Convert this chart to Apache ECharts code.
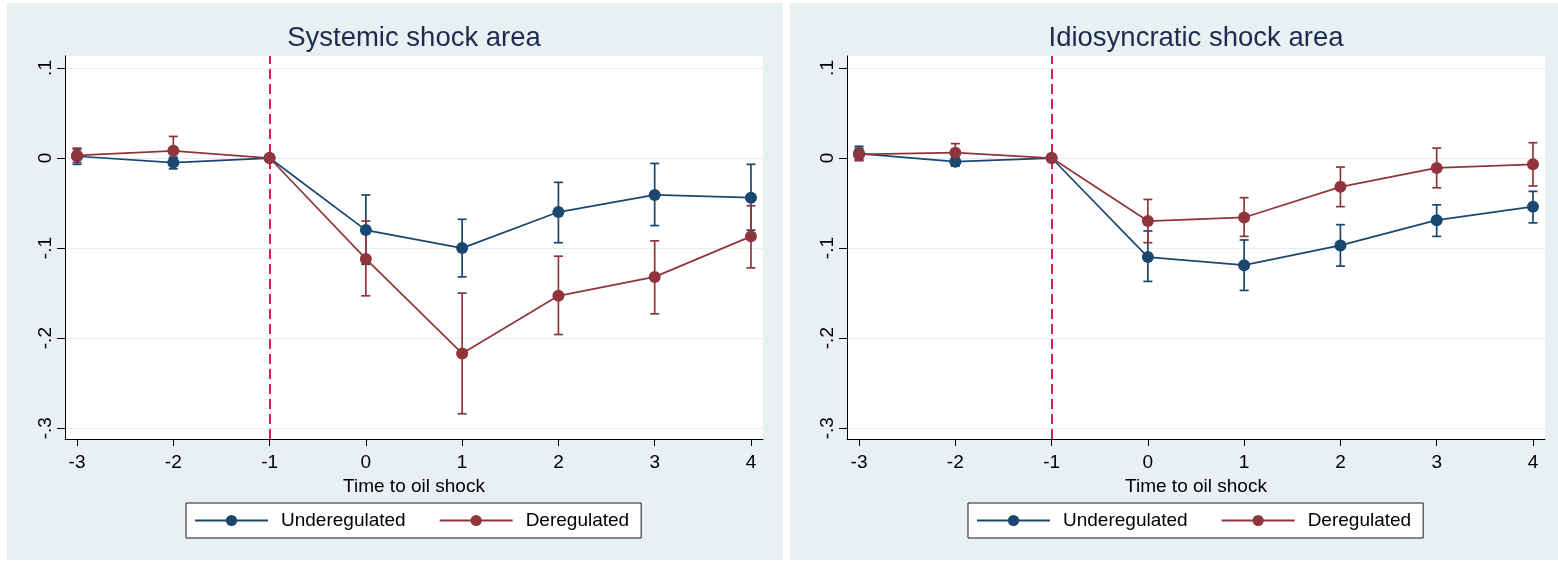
<!DOCTYPE html>
<html>
<head>
<meta charset="utf-8">
<script src="https://cdn.jsdelivr.net/npm/echarts@6.0.0/dist/echarts.min.js"></script>
<style>
  html, body { margin: 0; padding: 0; background: #ffffff; width: 1558px; height: 563px; overflow: hidden; }
  .panel { position: absolute; top: 3px; height: 557px; }
  #sys { left: 7px; width: 776px; }
  #idio { left: 790px; width: 768px; }
</style>
</head>
<body>
<div id="sys" class="panel"></div>
<div id="idio" class="panel"></div>
<script>
// Event time relative to the oil shock
const periods = [-3, -2, -1, 0, 1, 2, 3, 4];
const xTicks = [-3, -2, -1, 0, 1, 2, 3, 4];
const yTicks = [-0.3, -0.2, -0.1, 0, 0.1];
const seriesNames = ['Underegulated', 'Deregulated'];
const panelTitles = ['Systemic shock area', 'Idiosyncratic shock area'];
const xAxisTitle = 'Time to oil shock';
const shockPeriod = -1;

// Systemic shock area: point estimates and 95% confidence bounds
const sysUnderEst = [0.002, -0.005, 0, -0.080, -0.100, -0.060, -0.041, -0.044];
const sysUnderLo  = [-0.007, -0.012, 0, -0.118, -0.132, -0.094, -0.075, -0.080];
const sysUnderHi  = [0.010, 0.001, 0, -0.041, -0.068, -0.027, -0.006, -0.007];
const sysDeregEst = [0.003, 0.008, 0, -0.112, -0.217, -0.153, -0.132, -0.087];
const sysDeregLo  = [-0.005, -0.006, 0, -0.153, -0.284, -0.196, -0.173, -0.122];
const sysDeregHi  = [0.011, 0.024, 0, -0.070, -0.150, -0.109, -0.092, -0.053];

// Idiosyncratic shock area: point estimates and 95% confidence bounds
const idUnderEst = [0.005, -0.004, 0, -0.110, -0.119, -0.097, -0.069, -0.054];
const idUnderLo  = [-0.002, -0.009, 0, -0.137, -0.147, -0.120, -0.087, -0.072];
const idUnderHi  = [0.013, 0.000, 0, -0.081, -0.091, -0.074, -0.052, -0.037];
const idDeregEst = [0.004, 0.006, 0, -0.070, -0.066, -0.032, -0.011, -0.007];
const idDeregLo  = [-0.003, -0.004, 0, -0.094, -0.087, -0.054, -0.033, -0.031];
const idDeregHi  = [0.011, 0.016, 0, -0.046, -0.044, -0.010, 0.011, 0.017];

const COLORS = ['#1a476f', '#90353b'];
const BG = '#e9f0f2';
const FONT = '"Liberation Sans", Arial, sans-serif';

function fmtY(v) {
  const r = Math.round(v * 10) / 10;
  if (r === 0) return '0';
  return String(r).replace('0.', '.');
}

function points(est) {
  return periods.map((p, i) => [p, est[i]]);
}
function bars(lo, hi) {
  const out = [];
  periods.forEach((p, i) => { if (hi[i] !== lo[i]) out.push([p, lo[i], hi[i]]); });
  return out;
}

// Vertical interval with short horizontal caps at both ends
function capBars(color) {
  return function (params, api) {
    const x = api.value(0);
    const lo = api.coord([x, api.value(1)]);
    const hi = api.coord([x, api.value(2)]);
    const half = 4.5;
    const style = { stroke: color, lineWidth: 1.7 };
    return {
      type: 'group',
      children: [
        { type: 'line', shape: { x1: lo[0], y1: lo[1], x2: hi[0], y2: hi[1] }, style },
        { type: 'line', shape: { x1: lo[0] - half, y1: lo[1], x2: lo[0] + half, y2: lo[1] }, style },
        { type: 'line', shape: { x1: hi[0] - half, y1: hi[1], x2: hi[0] + half, y2: hi[1] }, style }
      ]
    };
  };
}

function panelOption(title, grid, titleX, legendLeft, est, lo, hi) {
  const series = [];
  for (let k = 0; k < 2; k++) {
    series.push({
      type: 'custom',
      name: seriesNames[k] + ' CI',
      data: bars(lo[k], hi[k]),
      renderItem: capBars(COLORS[k]),
      encode: { x: 0, y: [1, 2] },
      z: 3,
      silent: true
    });
  }
  for (let k = 0; k < 2; k++) {
    const s = {
      type: 'line',
      name: seriesNames[k],
      data: points(est[k]),
      symbol: 'circle',
      symbolSize: 12,
      showSymbol: true,
      lineStyle: { color: COLORS[k], width: 1.7 },
      itemStyle: { color: COLORS[k] },
      z: 4,
      animation: false
    };
    if (k === 0) {
      s.markLine = {
        silent: true,
        symbol: ['none', 'none'],
        label: { show: false },
        lineStyle: { color: '#d6204d', width: 2, type: [10, 5] },
        data: [{ xAxis: shockPeriod }],
        animation: false,
        z: 2
      };
    }
    series.push(s);
  }
  return {
    animation: false,
    backgroundColor: BG,
    textStyle: { fontFamily: FONT },
    graphic: [{
      type: 'text',
      x: titleX,
      y: 35,
      style: {
        text: title,
        fill: '#1c2b4f',
        font: '27.5px ' + FONT,
        textAlign: 'center',
        textVerticalAlign: 'middle'
      }
    }],
    grid: Object.assign({ show: true, backgroundColor: '#ffffff', borderWidth: 0 }, grid),
    legend: {
      left: legendLeft,
      top: 500,
      orient: 'horizontal',
      data: seriesNames,
      backgroundColor: '#ffffff',
      borderColor: '#1a1a1a',
      borderWidth: 1,
      borderRadius: 0,
      padding: [8, 12, 8, 8],
      itemWidth: 73,
      itemHeight: 14,
      itemGap: 33,
      textStyle: { fontFamily: FONT, fontSize: 19, color: '#000', padding: [0, 0, 0, 8] }
    },
    xAxis: {
      type: 'value',
      min: -3.125,
      max: 4.125,
      name: xAxisTitle,
      nameLocation: 'middle',
      nameGap: 34,
      nameTextStyle: { fontFamily: FONT, fontSize: 19, color: '#000' },
      axisLine: { show: true, onZero: false, lineStyle: { color: '#000', width: 1 } },
      axisTick: { show: true, length: 7, lineStyle: { color: '#000' }, customValues: xTicks },
      axisLabel: { fontFamily: FONT, fontSize: 19, color: '#000', margin: 14, customValues: xTicks },
      splitLine: { show: false }
    },
    yAxis: {
      type: 'value',
      min: -0.312,
      max: 0.1133,
      axisLine: { show: true, onZero: false, lineStyle: { color: '#000', width: 1 } },
      axisTick: { show: true, length: 8, lineStyle: { color: '#000' }, customValues: yTicks },
      axisLabel: { fontFamily: FONT, fontSize: 19, color: '#000', rotate: 90, margin: 10,
                   customValues: yTicks, formatter: fmtY },
      splitLine: { show: true, lineStyle: { color: '#e6eef0', width: 1.2 } }
    },
    series
  };
}

const sysChart = echarts.init(document.getElementById('sys'), null, { renderer: 'canvas' });
sysChart.setOption(panelOption(
  panelTitles[0],
  { left: 58, top: 53, right: 20, bottom: 121 },
  407, 179,
  [sysUnderEst, sysDeregEst], [sysUnderLo, sysDeregLo], [sysUnderHi, sysDeregHi]
));

const idChart = echarts.init(document.getElementById('idio'), null, { renderer: 'canvas' });
idChart.setOption(panelOption(
  panelTitles[1],
  { left: 57, top: 53, right: 13, bottom: 121 },
  406, 178,
  [idUnderEst, idDeregEst], [idUnderLo, idDeregLo], [idUnderHi, idDeregHi]
));
</script>
</body>
</html>
